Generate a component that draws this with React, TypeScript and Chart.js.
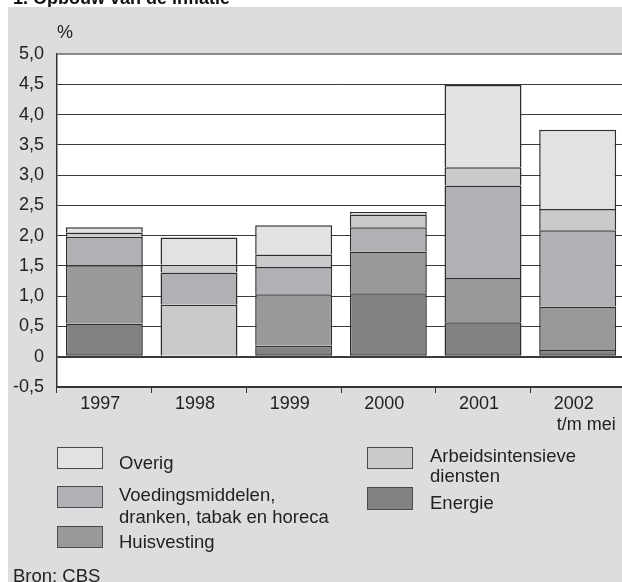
import React, { useEffect, useRef } from 'react';
import { Chart, registerables } from 'chart.js';

Chart.register(...registerables);

const TITLE = '1. Opbouw van de inflatie';
const UNIT = '%';
const SOURCE = 'Bron: CBS';

const categories: (string | string[])[] = ['1997', '1998', '1999', '2000', '2001', ['2002', '     t/m mei']];

const energie = [0.55, -0.02, 0.18, 1.05, 0.57, 0.11];
const huisvesting = [0.96, 0.86, 0.85, 0.69, 0.73, 0.72];
const voeding = [0.47, 0.53, 0.45, 0.4, 1.53, 1.26];
const arbeid = [0.07, 0.13, 0.21, 0.21, 0.3, 0.35];
const overig = [0.09, 0.45, 0.48, 0.04, 1.36, 1.31];

const yMin = -0.5;
const yMax = 5;
const yStep = 0.5;

const FONT = '"Liberation Sans", Arial, Helvetica, sans-serif';

const C_ENERGIE = '#818284';
const C_HUIS = '#97999b';
const C_VOEDING = '#b0b1b4';
const C_ARBEID = '#c8cacc';
const C_OVERIG = '#e1e2e4';

const fmt = (v: number) => (Math.abs(v) < 1e-9 ? '0' : v.toFixed(1).replace('.', ','));

const frame = {
  id: 'frame',
  beforeDraw(chart: any) {
    const ctx = chart.ctx;
    ctx.save();
    ctx.fillStyle = '#111';
    ctx.font = 'bold 18px ' + FONT;
    ctx.textAlign = 'left';
    ctx.textBaseline = 'alphabetic';
    ctx.fillText(TITLE, 13, 4);
    ctx.fillStyle = '#dcdddf';
    ctx.fillRect(8, 7, chart.width - 8, chart.height - 7);
    const a = chart.chartArea;
    ctx.fillStyle = '#ffffff';
    ctx.fillRect(a.left, a.top, a.right - a.left, a.bottom - a.top);
    ctx.fillStyle = '#222';
    ctx.font = '18px ' + FONT;
    ctx.fillText(UNIT, 57, 38);
    ctx.restore();
  },
  afterDraw(chart: any) {
    const ctx = chart.ctx;
    ctx.save();
    const items = [
      { color: C_OVERIG, box: [57, 447, 46, 22], lines: ['Overig'], x: 119, y: [469] },
      { color: C_VOEDING, box: [57, 486, 46, 22], lines: ['Voedingsmiddelen,', 'dranken, tabak en horeca'], x: 119, y: [501, 523] },
      { color: C_HUIS, box: [57, 526, 46, 22], lines: ['Huisvesting'], x: 119, y: [548] },
      { color: C_ARBEID, box: [367, 447, 46, 22], lines: ['Arbeidsintensieve', 'diensten'], x: 430, y: [461.5, 481.5] },
      { color: C_ENERGIE, box: [367, 487, 46, 23], lines: ['Energie'], x: 430, y: [509] },
    ];
    ctx.font = '18.5px ' + FONT;
    ctx.textAlign = 'left';
    ctx.textBaseline = 'alphabetic';
    for (const it of items) {
      const [bx, by, bw, bh] = it.box;
      ctx.fillStyle = it.color;
      ctx.fillRect(bx, by, bw, bh);
      ctx.strokeStyle = '#4a4a4a';
      ctx.lineWidth = 1;
      ctx.strokeRect(bx + 0.5, by + 0.5, bw - 1, bh - 1);
      ctx.fillStyle = '#222';
      it.lines.forEach((l, i) => ctx.fillText(l, it.x, it.y[i]));
    }
    ctx.fillStyle = '#222';
    ctx.fillText(SOURCE, 13, 582);
    ctx.restore();
  },
};

export default function App() {
  const ref = useRef<HTMLCanvasElement>(null);

  useEffect(() => {
    if (!ref.current) return;
    const huisColors = categories.map((_, i) => (i === 1 ? C_ARBEID : C_HUIS));
    const common = {
      borderColor: '#2e2e2e',
      borderWidth: 1.5,
      borderSkipped: 'start' as const,
      barPercentage: 0.813,
      categoryPercentage: 1,
    };
    const chart = new Chart(ref.current, {
      type: 'bar',
      data: {
        labels: categories as any,
        datasets: [
          { label: 'Energie', data: energie, backgroundColor: C_ENERGIE, ...common, borderSkipped: false as any },
          { label: 'Huisvesting', data: huisvesting, backgroundColor: huisColors, ...common },
          { label: 'Voedingsmiddelen, dranken, tabak en horeca', data: voeding, backgroundColor: C_VOEDING, ...common },
          { label: 'Arbeidsintensieve diensten', data: arbeid, backgroundColor: C_ARBEID, ...common },
          { label: 'Overig', data: overig, backgroundColor: C_OVERIG, ...common },
        ],
      },
      options: {
        responsive: false,
        animation: false,
        devicePixelRatio: 1,
        layout: { padding: { top: 54, left: 0, right: 5, bottom: 145 } },
        plugins: {
          legend: { display: false },
          title: { display: false },
          tooltip: { enabled: false },
        },
        scales: {
          x: {
            stacked: true,
            afterFit: (s: any) => {
              s.height = 50;
            },
            grid: {
              display: true,
              drawOnChartArea: false,
              drawTicks: true,
              tickLength: 6,
              offset: true,
              color: '#333',
              lineWidth: 1,
            },
            border: { display: true, color: '#333', width: 1.5 },
            ticks: {
              color: '#222',
              font: { family: FONT, size: 18 },
              padding: 0,
              labelOffset: -4,
              maxRotation: 0,
              autoSkip: false,
            },
          },
          y: {
            stacked: true,
            min: yMin,
            max: yMax,
            afterFit: (s: any) => {
              s.width = 57;
            },
            grid: {
              drawTicks: false,
              color: (c: any) => (c.tick && c.tick.value === yMax ? '#8a8a8a' : '#3a3a3a'),
              lineWidth: (c: any) => (c.tick && (c.tick.value === 0 || c.tick.value === yMax) ? 2 : 1),
            },
            border: { display: true, color: '#333', width: 1.5 },
            ticks: {
              stepSize: yStep,
              color: '#222',
              font: { family: FONT, size: 18 },
              padding: 13,
              callback: (v: any) => fmt(Number(v)),
            },
          },
        },
      },
      plugins: [frame],
    });
    return () => chart.destroy();
  }, []);

  return (
    <div style={{ position: 'absolute', left: 0, top: 0, width: 622, height: 582, overflow: 'hidden', background: '#fff' }}>
      <canvas ref={ref} width={630} height={582} style={{ display: 'block' }} />
    </div>
  );
}
